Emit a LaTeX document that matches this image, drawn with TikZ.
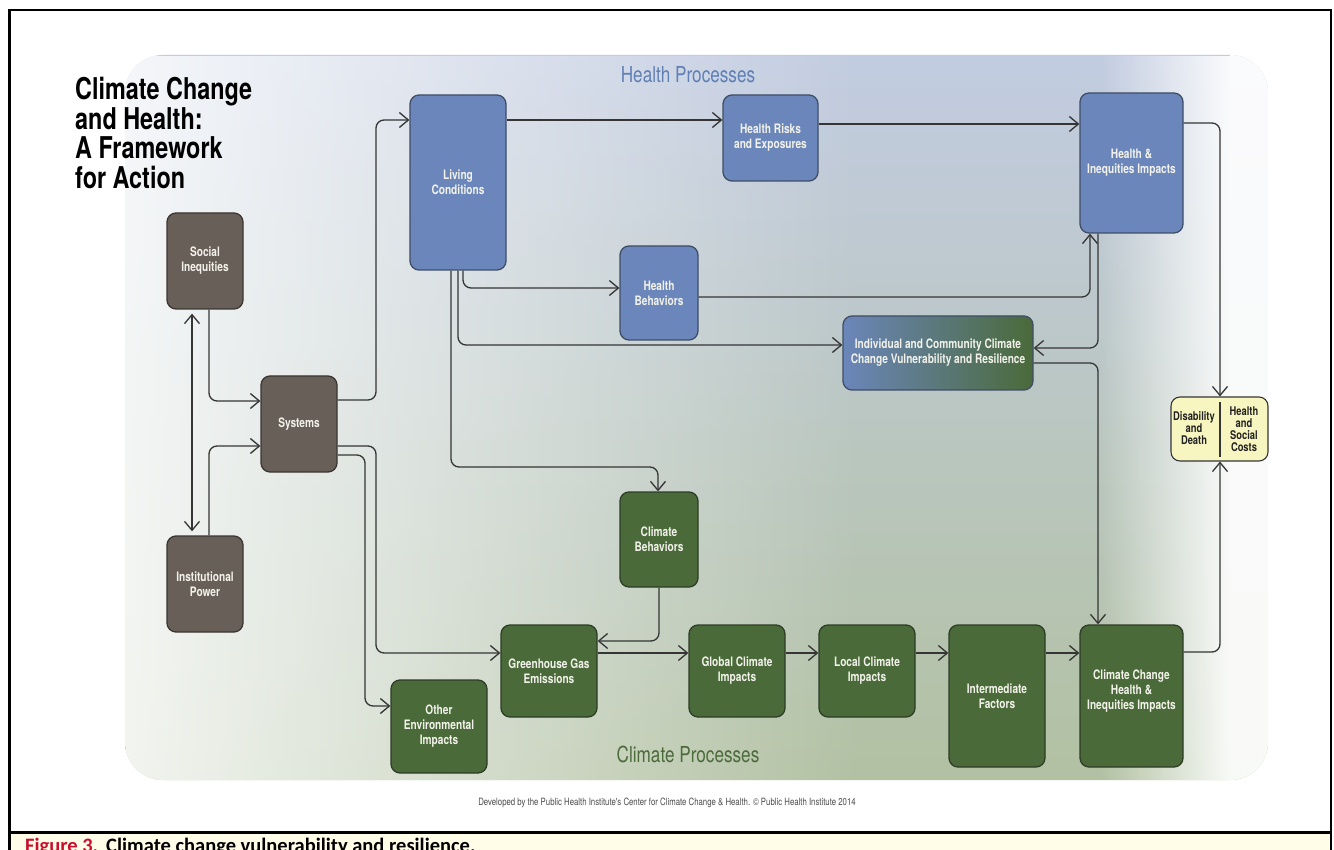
\documentclass[tikz,border=0pt]{standalone}
\usepackage{fontspec}
\usetikzlibrary{arrows.meta,fadings,calc}
\newfontfamily\condfont[FakeStretch=0.78]{TeX Gyre Heros}
\newfontfamily\capfont{Carlito}

\definecolor{brownC}{HTML}{675F58}
\definecolor{brownL}{HTML}{3B3632}
\definecolor{blueC}{HTML}{6B86BA}
\definecolor{blueL}{HTML}{3F4D66}
\definecolor{greenC}{HTML}{4A6A3A}
\definecolor{greenL}{HTML}{2E3D27}
\definecolor{yellowC}{HTML}{F8F6C0}
\definecolor{boxtext}{HTML}{F2F2EA}
\definecolor{darktext}{HTML}{222222}
\definecolor{lineC}{HTML}{353535}
\definecolor{pblue}{HTML}{C2CCE1}
\definecolor{pmid}{HTML}{EEF1F0}
\definecolor{pgreen}{HTML}{B2C1A2}
\definecolor{hpblue}{HTML}{5F7FB5}
\definecolor{cpgreen}{HTML}{4B6B3B}
\definecolor{capyellow}{HTML}{FFFCE8}
\definecolor{figred}{HTML}{C8102E}

\tikzfading[name=fadeleft, left color=transparent!0, right color=transparent!100]
\tikzfading[name=faderight, left color=transparent!100, right color=transparent!0]

\begin{document}
\begin{tikzpicture}[x=1pt, y=-1pt,
  box/.style={rounded corners=9pt, draw, line width=1.3pt, inner sep=0pt,
    align=center, text=boxtext,
    font=\condfont\bfseries\fontsize{13}{15}\selectfont},
  sz/.style 2 args={minimum width=#1pt, minimum height=#2pt},
  brownbox/.style={box, fill=brownC, draw=brownL},
  bluebox/.style={box, fill=blueC, draw=blueL},
  greenbox/.style={box, fill=greenC, draw=greenL},
  dtext/.style={inner sep=0pt, align=center, text=darktext,
    font=\condfont\bfseries\fontsize{12}{12}\selectfont},
  conn/.style={draw=lineC, line width=1.3pt, rounded corners=8pt, -{Straight Barb[length=9pt, width=15pt]}}
]
\useasboundingbox (0,0) rectangle (1334,850);
\clip (0,0) rectangle (1334,850);
\fill[white] (0,0) rectangle (1334,850);

% background panel
\begin{scope}
  \clip[rounded corners=38pt] (125,55) rectangle (1268,780);
  \shade[top color=pblue, middle color=pmid, bottom color=pgreen] (125,55) rectangle (1268,780);
  \fill[white, path fading=fadeleft] (-20,55) rectangle (860,780);
  \fill[white, opacity=0.92, path fading=faderight] (1100,55) rectangle (1230,780);
  \fill[white, opacity=0.92] (1229.5,55) rectangle (1270,780);
\end{scope}

% headings
\node[anchor=north west, align=left, inner sep=0pt,
  font=\condfont\bfseries\fontsize{30}{29.5}\selectfont] (title) at (75,77)
  {Climate Change\\and Health:\\A Framework\\for Action};
\node[anchor=base, inner sep=0pt, text=hpblue,
  font=\condfont\fontsize{22}{24}\selectfont] (hp) at (688,83) {Health Processes};
\node[anchor=base, inner sep=0pt, text=cpgreen,
  font=\condfont\fontsize{22}{24}\selectfont] (cp) at (688,762) {Climate Processes};

% boxes
\node[brownbox, sz={76}{96}] (si) at (205,261) {Social\\Inequities};
\node[brownbox, sz={76}{96}] (ip) at (205,584) {Institutional\\Power};
\node[brownbox, sz={76}{96}] (sys) at (299,424) {Systems};
\node[bluebox, sz={96}{175}] (lc) at (458,182.5) {Living\\Conditions};
\node[bluebox, sz={95}{86}] (hre) at (770.5,138) {Health Risks\\and Exposures};
\node[bluebox, sz={103}{140}] (hii) at (1131.5,163) {Health \&\\Inequities Impacts};
\node[bluebox, sz={78}{94}] (hb) at (659,293) {Health\\Behaviors};
\node[box, draw=blueL, left color=blueC, right color=greenC, sz={190}{74}] (icv) at (938,353)
  {Individual and Community Climate\\Change Vulnerability and Resilience};
\node[greenbox, sz={78}{95}] (cb) at (659,539.5) {Climate\\Behaviors};
\node[greenbox, sz={96}{92}] (ghg) at (549,671) {Greenhouse Gas\\Emissions};
\node[greenbox, sz={96}{93}] (oei) at (439,726.5) {Other\\Environmental\\Impacts};
\node[greenbox, sz={96}{92}] (gci) at (737,671) {Global Climate\\Impacts};
\node[greenbox, sz={96}{92}] (lci) at (867,671) {Local Climate\\Impacts};
\node[greenbox, sz={96}{142}] (imf) at (997,696) {Intermediate\\Factors};
\node[greenbox, sz={103}{142}] (cch) at (1131.5,696)
  {\raisebox{2pt}[0pt][0pt]{\begin{tabular}{@{}c@{}}Climate Change\\Health \&\\Inequities Impacts\end{tabular}}};

% outcome box with two halves
\node[box, fill=yellowC, draw=lineC, line width=1.1pt, sz={97}{64}] (dis) at (1219.5,429) {};
\draw[lineC, line width=1.6pt] ($(dis.north)+(0.5,6)$) -- ($(dis.south)+(0.5,-5)$);
\node[dtext] (dis1) at (1194,428) {Disability\\and\\Death};
\node[dtext] (dis2) at (1244,429) {Health\\and\\Social\\Costs};

% connectors
\draw[conn] (sys.east |- 0,400) -- (376,400) -- (376,120) -- (lc.west |- 0,120);
\draw[conn] (si.south -| 209,0) -- (209,401) -- (sys.west |- 0,401);
\draw[conn] (ip.north -| 209,0) -- (209,446) -- (sys.west |- 0,446);
\draw[conn, {Straight Barb[length=9pt, width=15pt]}-{Straight Barb[length=9pt, width=15pt]},
  shorten <=4pt, shorten >=4pt] (si.south -| 192,0) -- (ip.north -| 192,0);
\draw[conn] (sys.east |- 0,446) -- (376,446) -- (376,653) -- (ghg.west |- 0,653);
\draw[conn] (sys.east |- 0,455) -- (365,455) -- (365,706) -- (oei.west |- 0,706);
\draw[conn] (lc.east |- 0,120) -- (hre.west |- 0,120);
\draw[conn] (hre.east |- 0,124) -- (hii.west |- 0,124);
\draw[conn] (lc.south -| 463,0) -- (463,288) -- (hb.west |- 0,288);
\draw[conn] (lc.south -| 458,0) -- (458,345) -- (icv.west |- 0,345);
\draw[conn] (lc.south -| 451,0) -- (451,467) -- (658,467) -- (cb.north -| 658,0);
\draw[conn] (hb.east |- 0,297) -- (1090,297) -- (hii.south -| 1090,0);
\draw[conn] (hii.south -| 1098,0) -- (1098,348) -- (icv.east |- 0,348);
\draw[conn] (icv.east |- 0,363) -- (1098,363) -- (cch.north -| 1098,0);
\draw[conn] (hii.east |- 0,123) -- (1220,123) -- (dis.north -| 1220,0);
\draw[conn] (cch.east |- 0,652) -- (1220,652) -- (dis.south -| 1220,0);
\draw[conn] (cb.south -| 659,0) -- (659,641) -- (ghg.east |- 0,641);
\draw[conn] (ghg.east |- 0,653) -- (gci.west |- 0,653);
\draw[conn] (gci.east |- 0,653) -- (lci.west |- 0,653);
\draw[conn] (lci.east |- 0,653) -- (imf.west |- 0,653);
\draw[conn] (imf.east |- 0,653) -- (cch.west |- 0,653);

% credit line
\node[inner sep=0pt, text=black!70, font=\condfont\fontsize{10}{12}\selectfont] (credit) at (667,803)
  {Developed by the Public Health Institute's Center for Climate Change \& Health. \textcopyright{} Public Health Institute 2014};

% caption strip and frame
\fill[capyellow] (10,834) rectangle (1330,852);
\node[anchor=base west, inner sep=0pt, font=\capfont\bfseries\fontsize{20.5}{23}\selectfont] (caption) at (25,852.5)
  {\textcolor{figred}{Figure 3.}\hspace{8pt}Climate change vulnerability and resilience.};
\draw[line width=2.6pt] (9.5,860) -- (9.5,10) -- (1331,10) -- (1331,860);
\draw[line width=2.6pt] (9.5,832.5) -- (1331,832.5);
\end{tikzpicture}
\end{document}
